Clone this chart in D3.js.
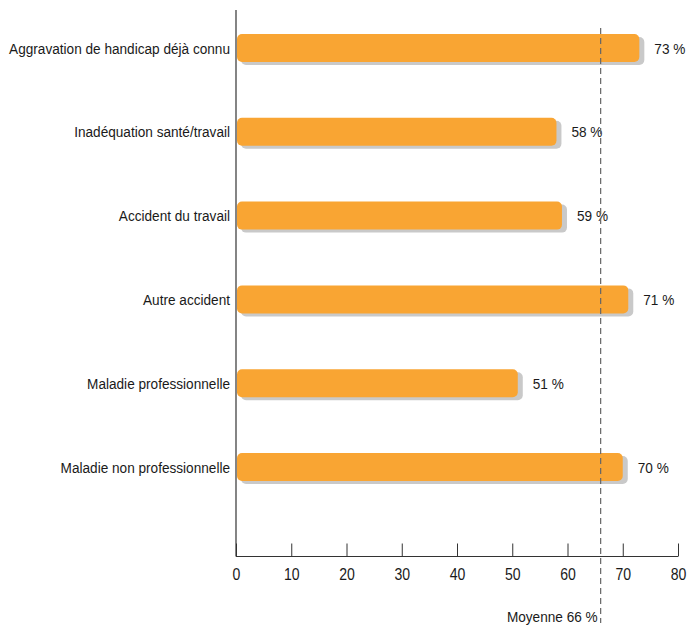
<!DOCTYPE html>
<html><head><meta charset="utf-8">
<script src="https://cdn.jsdelivr.net/npm/d3@7"></script>
<style>
body{margin:0;background:#fff;}
text{font-family:"Liberation Sans",Arial,sans-serif;fill:#1a1a1a;}
</style></head>
<body><svg id="c" width="687" height="625"></svg>
<script>
const categories = ["Aggravation de handicap déjà connu","Inadéquation santé/travail","Accident du travail","Autre accident","Maladie professionnelle","Maladie non professionnelle"];
const values = [73,58,59,71,51,70];
const xTicks = [0,10,20,30,40,50,60,70,80];
const average = 66;
const averageLabel = "Moyenne 66 %";

const svg = d3.select("#c");
const x = d3.scaleLinear().domain([0,80]).range([236,678]);
const y = d3.scalePoint().domain(categories).range([48,467]);
const bh = 28;
const fs = 15.5;

// horizontal condensing factor measured from the longest label
const probe = svg.append("text").attr("font-size",fs).text(categories[0]);
const sx = 221 / probe.node().getComputedTextLength();
probe.remove();

function label(g, px, py, txt, anchor){
  return g.append("text").attr("transform",`translate(${px},${py}) scale(${sx},1)`)
    .attr("text-anchor",anchor||"start").attr("font-size",fs).text(txt);
}

// shadows
svg.selectAll("rect.sh").data(values).join("rect").attr("class","sh")
  .attr("x", x(0)+5).attr("y",(d,i)=>y(categories[i])-bh/2+3)
  .attr("width", d=>x(d)-x(0)).attr("height",bh).attr("rx",5)
  .attr("fill","#c9c9c9");
// bars
svg.selectAll("rect.bar").data(values).join("rect").attr("class","bar")
  .attr("x", x(0)+1).attr("y",(d,i)=>y(categories[i])-bh/2)
  .attr("width", d=>x(d)-x(0)-1).attr("height",bh).attr("rx",5)
  .attr("fill","#f9a533");

values.forEach((v,i)=>label(svg, x(v)+15, y(categories[i])+5.5, v+" %"));
categories.forEach(c=>label(svg, 230, y(c)+5.5, c, "end"));

// average dashed line
svg.append("line").attr("x1",x(average)).attr("x2",x(average))
  .attr("y1",28).attr("y2",623).attr("stroke","#666").attr("stroke-width",1.2)
  .attr("stroke-dasharray","6,4");
label(svg, x(average)-3, 622, averageLabel, "end");

// left axis line
svg.append("line").attr("x1",x(0)).attr("x2",x(0)).attr("y1",10).attr("y2",556.5)
  .attr("stroke","#333").attr("stroke-width",1.2);

// bottom axis
const ax = svg.append("g").attr("transform","translate(0,556.5)")
  .call(d3.axisBottom(x).tickValues(xTicks).tickSize(-13).tickPadding(12).tickFormat(d3.format("d")));
ax.select(".domain").attr("stroke","#333").attr("stroke-width",1.2).attr("d",`M${x(0)},0H${x(80)}`);
ax.selectAll(".tick line").attr("stroke","#333");
ax.selectAll(".tick text").attr("font-size",fs+0.5).attr("fill","#1a1a1a")
  .attr("transform",`scale(${sx},1)`)
  .style("font-family",'"Liberation Sans",Arial,sans-serif');
</script></body></html>
